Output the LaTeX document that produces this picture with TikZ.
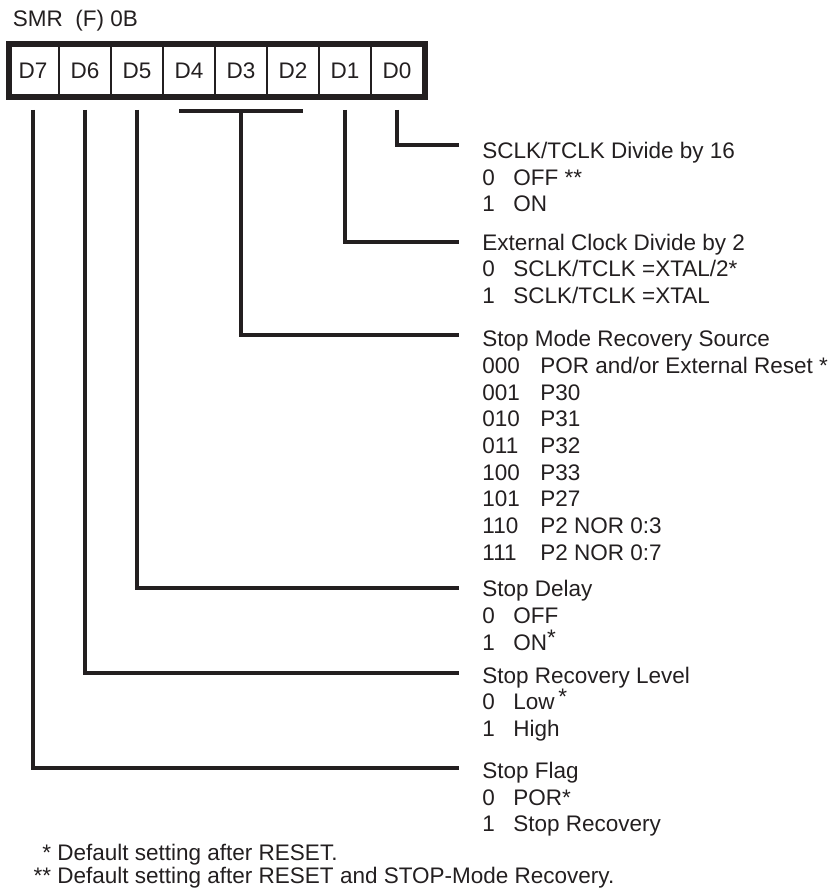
\documentclass[tikz,border=0pt]{standalone}
\usepackage{fontspec}
\setmainfont{Liberation Sans}
\usepackage{xcolor}
\usetikzlibrary{positioning,fit}

\definecolor{ink}{HTML}{231F20}
\newcommand{\bitopt}[2]{\makebox[15.5pt][l]{#1}#2}
\newcommand{\srcopt}[2]{\makebox[29pt][l]{#1}#2}
\newcommand{\upstar}{\raisebox{2.5pt}{*}}

\begin{document}
\begin{tikzpicture}[
    x=0.5pt, y=-0.5pt,
    node distance=0pt,
    every node/.style={font=\fontsize{11.25pt}{13.35pt}\selectfont, text=ink},
    cell/.style={draw=ink, line width=1.3pt, minimum width=26pt, minimum height=26.5pt,
                 inner sep=0pt, outer sep=0pt},
    frame/.style={draw=ink, line width=2.6pt, inner sep=0pt},
    info/.style={anchor=base west, align=left, inner sep=0pt},
    note/.style={anchor=base west, inner sep=0pt},
    wire/.style={draw=ink, line width=1.6pt}
  ]
    \useasboundingbox (0,0) rectangle (836,892);

    % Register
    \node[note] (title) at (12.5,26.7) {SMR\ \ (F) 0B};
    \node[cell] (d7) at (33,70.5) {D7};
    \node[cell, right=of d7] (d6) {D6};
    \node[cell, right=of d6] (d5) {D5};
    \node[cell, right=of d5] (d4) {D4};
    \node[cell, right=of d4] (d3) {D3};
    \node[cell, right=of d3] (d2) {D2};
    \node[cell, right=of d2] (d1) {D1};
    \node[cell, right=of d1] (d0) {D0};
    \node[frame, fit=(d7)(d0), xshift=1pt] (smr) {};

    % Bit descriptions (placed at the baseline of the last line)
    \node[info] (sclk) at (482,211.8) {SCLK/TCLK Divide by 16\\
      \bitopt{0}{OFF **}\\
      \bitopt{1}{ON}};
    \node[info] (extclk) at (482,303.6) {External Clock Divide by 2\\
      \bitopt{0}{SCLK/TCLK =XTAL/2*}\\
      \bitopt{1}{SCLK/TCLK =XTAL}};
    \node[info] (source) at (482,560.2) {Stop Mode Recovery Source\\
      \srcopt{000}{POR and/or External Reset *}\\
      \srcopt{001}{P30}\\
      \srcopt{010}{P31}\\
      \srcopt{011}{P32}\\
      \srcopt{100}{P33}\\
      \srcopt{101}{P27}\\
      \srcopt{110}{P2 NOR 0:3}\\
      \srcopt{111}{P2 NOR 0:7}};
    \node[info] (delay) at (482,650) {Stop Delay\\
      \bitopt{0}{OFF}\\
      \bitopt{1}{ON\upstar}};
    \node[info] (level) at (482,736.5) {Stop Recovery Level\\
      \bitopt{0}{Low\,\upstar}\\
      \bitopt{1}{High}};
    \node[info] (flag) at (482,831.8) {Stop Flag\\
      \bitopt{0}{POR*}\\
      \bitopt{1}{Stop Recovery}};

    % Footnotes
    \node[note] (note1) at (57,860) {\llap{*\ }Default setting after RESET.};
    \node[note] (note2) at (57,883) {\llap{**\ }Default setting after RESET and STOP-Mode Recovery.};

    % Line ends
    \coordinate (e0) at (459,145);
    \coordinate (e1) at (459,242);
    \coordinate (e234) at (459,335);
    \coordinate (e5) at (459,588);
    \coordinate (e6) at (459,673);
    \coordinate (e7) at (459,768);

    % Connectors
    \draw[wire] ([yshift=-6.5pt]d0.south) |- (e0);
    \draw[wire] ([yshift=-6.5pt]d1.south) |- (e1);
    \draw[wire] ([xshift=-5pt,yshift=-7pt]d4.south) -- ([xshift=5pt,yshift=-7pt]d2.south);
    \draw[wire] ([yshift=-7pt]d3.south) |- (e234);
    \draw[wire] ([yshift=-6.5pt]d5.south) |- (e5);
    \draw[wire] ([yshift=-6.5pt]d6.south) |- (e6);
    \draw[wire] ([yshift=-6.5pt]d7.south) |- (e7);
  \end{tikzpicture}
\end{document}
